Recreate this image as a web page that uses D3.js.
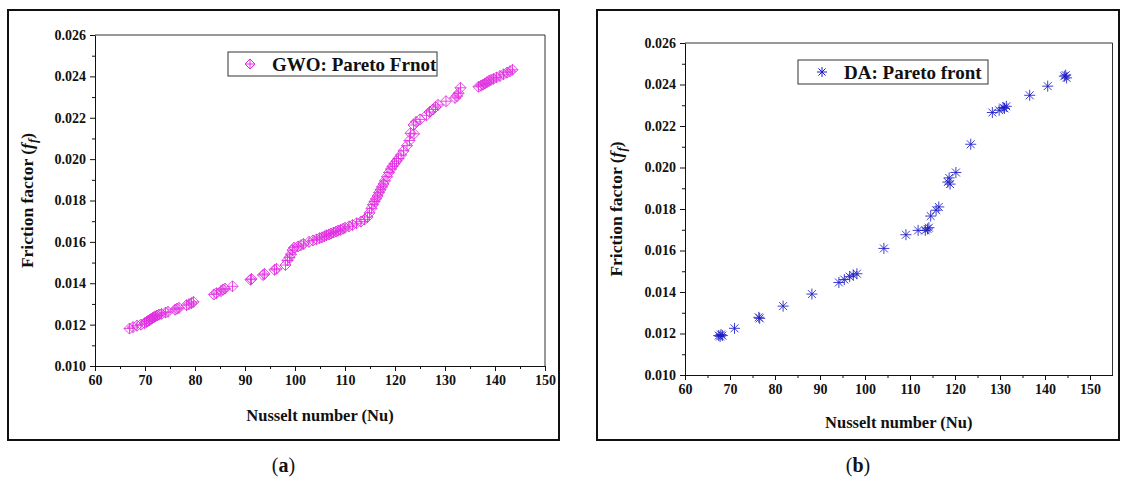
<!DOCTYPE html>
<html>
<head>
<meta charset="utf-8">
<script src="https://cdn.jsdelivr.net/npm/d3@7"></script>
<style>
  body { margin: 0; background: #fff; }
  svg text { font-family: "Liberation Serif", "DejaVu Serif", serif !important; }
</style>
</head>
<body>
<div id="app"></div>
<script>
// GWO pareto front (left panel)
const gwoNu = [66.9, 67.6, 68.4, 69.2, 69.9, 70.3, 70.6, 70.9, 71.2, 71.5, 71.8, 72.1, 72.4, 72.8, 73.3, 74.1, 74.6,
  76.0, 76.4, 76.8, 78.3, 78.8, 79.3, 79.7, 83.8, 84.3, 85.2, 85.6, 86.0, 87.5, 91.1, 91.3, 93.6, 93.9, 95.9, 96.3,
  98.1, 98.5, 98.9, 99.2, 99.5, 99.8, 100.6, 101.2, 101.7, 102.8, 103.6, 104.3, 104.9, 105.4, 105.9, 106.3, 106.8,
  107.2, 107.7, 108.2, 108.6, 109.1, 109.6, 110.0, 110.8, 111.5, 112.3, 113.2, 113.9, 114.5, 114.9, 115.3, 115.6,
  115.9, 116.2, 116.5, 116.8, 117.1, 117.4, 117.7, 118.0, 118.4, 118.8, 119.2, 119.5, 119.9, 120.3, 120.7, 121.2,
  121.7, 122.4, 122.9, 123.1, 123.8, 123.7, 124.2, 125.0, 126.3, 126.9, 127.6, 128.1, 128.6, 130.2, 132.0, 132.4,
  132.7, 133.1, 136.7, 137.2, 137.6, 138.0, 138.4, 138.8, 139.2, 139.7, 140.3, 141.0, 141.7, 142.4, 143.0, 143.5]
const gwoFf = [0.01181, 0.01188, 0.01195, 0.01200, 0.01207, 0.01213, 0.01218, 0.01222, 0.01227, 0.01232, 0.01236,
  0.01240, 0.01244, 0.01248, 0.01252, 0.01258, 0.01262, 0.01272, 0.01277, 0.01281, 0.01294, 0.01299, 0.01304,
  0.01310, 0.01346, 0.01352, 0.01362, 0.01369, 0.01374, 0.01385, 0.01417, 0.01421, 0.01440, 0.01445, 0.01465,
  0.01470, 0.01488, 0.01510, 0.01525, 0.01540, 0.01560, 0.01572, 0.01578, 0.01584, 0.01590, 0.01600, 0.01607,
  0.01612, 0.01618, 0.01622, 0.01627, 0.01632, 0.01636, 0.01640, 0.01645, 0.01650, 0.01654, 0.01658, 0.01663,
  0.01668, 0.01675, 0.01682, 0.01690, 0.01698, 0.01708, 0.01720, 0.01740, 0.01762, 0.01780, 0.01795, 0.01808,
  0.01822, 0.01838, 0.01852, 0.01866, 0.01880, 0.01895, 0.01915, 0.01935, 0.01952, 0.01965, 0.01978, 0.01990,
  0.02003, 0.02020, 0.02040, 0.02065, 0.02090, 0.02125, 0.02122, 0.02165, 0.02180, 0.02192, 0.02212, 0.02228,
  0.02240, 0.02252, 0.02262, 0.02280, 0.02296, 0.02305, 0.02318, 0.02345, 0.02350, 0.02355, 0.02360, 0.02366,
  0.02372, 0.02378, 0.02383, 0.02388, 0.02395, 0.02402, 0.02410, 0.02418, 0.02425, 0.02432]

// DA pareto front (right panel)
const daNu = [67.5, 68.0, 68.3, 67.8, 71.0, 76.4, 76.6, 81.8, 88.2, 94.2, 95.4, 96.6, 97.4, 98.2, 104.2, 109.1,
  111.8, 113.4, 113.9, 114.2, 114.6, 115.8, 116.4, 118.4, 118.7, 118.9, 120.2, 123.5, 128.3, 129.8, 130.7, 131.4,
  131.0, 136.6, 140.6, 144.6, 144.8, 144.3]
const daFf = [0.01190, 0.01195, 0.01190, 0.01186, 0.01225, 0.01278, 0.01273, 0.01332, 0.01390, 0.01446, 0.01460,
  0.01474, 0.01482, 0.01488, 0.01610, 0.01676, 0.01697, 0.01697, 0.01704, 0.01710, 0.01766, 0.01794, 0.01810,
  0.01930, 0.01950, 0.01920, 0.01976, 0.02112, 0.02265, 0.02276, 0.02289, 0.02295, 0.02285, 0.02348, 0.02392,
  0.02445, 0.02432, 0.02440]

const xTicks = [60, 70, 80, 90, 100, 110, 120, 130, 140, 150]
const yTicks = [0.010, 0.012, 0.014, 0.016, 0.018, 0.020, 0.022, 0.024, 0.026]

const W = 1125, H = 479
const svg = d3.select('#app').append('svg')
    .attr('width', W)
    .attr('height', H)
svg.append('rect').attr('width', W).attr('height', H).attr('fill', '#fff')

const diamondPlus = r => `M0,${-r}L${r},0L0,${r}L${-r},0Z M0,${-r}L0,${r} M${-r},0L${r},0`
const star = r => {
  const d = r * 0.72
  return `M0,${-r}L0,${r} M${-r},0L${r},0 M${-d},${-d}L${d},${d} M${-d},${d}L${d},${-d}`
}

const panels = [
  { frame: [8, 10, 551, 430], x: [95, 545], xMax: 150, y: [366, 35], nu: gwoNu, ff: gwoFf,
    sym: diamondPlus, color: '#e02ce0', label: 'GWO: Pareto Frnot',
    legend: [228, 52, 209, 24], symDx: 22, textDx: 44, yTitleX: 33, xTitleY: 421, caption: 'a' },
  { frame: [597, 10, 522, 430], x: [685, 1112.5], xMax: 155, y: [375, 43], nu: daNu, ff: daFf,
    sym: star, color: '#1c1cc8', label: 'DA: Pareto front',
    legend: [798, 60, 190, 24], symDx: 24, textDx: 46, yTitleX: 622, xTitleY: 428, caption: 'b' }
]

panels.forEach(p => {
  const g = svg.append('g')
  const [fx, fy, fw, fh] = p.frame
  g.append('rect')
      .attr('x', fx).attr('y', fy).attr('width', fw).attr('height', fh)
      .attr('fill', 'none').attr('stroke', '#111').attr('stroke-width', 2)

  const x = d3.scaleLinear().domain([60, p.xMax]).range(p.x)
  const y = d3.scaleLinear().domain([0.010, 0.026]).range(p.y)

  // plot box top + right
  g.append('path')
      .attr('d', `M${p.x[0]},${p.y[1]}H${p.x[1]}V${p.y[0]}`)
      .attr('fill', 'none').attr('stroke', '#333').attr('stroke-width', 1)

  // minor ticks
  const xMinor = d3.range(65, p.xMax, 10)
  const yMinor = d3.range(0.011, 0.026, 0.002)
  g.append('g').attr('transform', `translate(0,${p.y[0]})`)
      .call(d3.axisBottom(x).tickValues(xMinor).tickSize(3).tickFormat(''))
      .call(a => a.select('.domain').remove())
  g.append('g').attr('transform', `translate(${p.x[0]},0)`)
      .call(d3.axisLeft(y).tickValues(yMinor).tickSize(3).tickFormat(''))
      .call(a => a.select('.domain').remove())

  const xAxis = g.append('g').attr('transform', `translate(0,${p.y[0]})`)
      .call(d3.axisBottom(x).tickValues(xTicks).tickSize(5).tickSizeOuter(0).tickPadding(4))
  const yAxis = g.append('g').attr('transform', `translate(${p.x[0]},0)`)
      .call(d3.axisLeft(y).tickValues(yTicks).tickSize(5).tickSizeOuter(0).tickPadding(4).tickFormat(d3.format('.3f')))
  ;[xAxis, yAxis].forEach(a => {
    a.attr('font-family', null)
    a.selectAll('text').attr('font-size', 14).attr('font-weight', 'bold').attr('fill', '#111')
    a.selectAll('line, path').attr('stroke', '#111')
  })
  g.selectAll('.tick line').attr('stroke', '#111')

  // axis titles
  g.append('text')
      .attr('x', (p.x[0] + p.x[1]) / 2)
      .attr('y', p.xTitleY)
      .attr('text-anchor', 'middle')
      .attr('font-size', 16.5).attr('font-weight', 'bold').attr('fill', '#111')
      .text('Nusselt number (Nu)')
  const yt = g.append('text')
      .attr('transform', `translate(${p.yTitleX},${(p.y[0] + p.y[1]) / 2}) rotate(-90)`)
      .attr('text-anchor', 'middle')
      .attr('font-size', 17.5).attr('font-weight', 'bold').attr('fill', '#111')
  yt.append('tspan').text('Friction factor (')
  yt.append('tspan').attr('font-style', 'italic').text('f')
  yt.append('tspan').attr('font-style', 'italic').attr('font-size', 13).attr('dy', 4).text('f')
  yt.append('tspan').attr('dy', -4).text(')')

  // points
  g.append('g').selectAll('path')
      .data(d3.zip(p.nu, p.ff))
      .join('path')
      .attr('transform', d => `translate(${x(d[0])},${y(d[1])})`)
      .attr('d', p.sym(5.5))
      .attr('fill', 'none')
      .attr('stroke', p.color)
      .attr('stroke-width', 1)
      .attr('stroke-opacity', 0.85)

  // legend
  const [lx, ly, lw, lh] = p.legend
  g.append('rect')
      .attr('x', lx).attr('y', ly).attr('width', lw).attr('height', lh)
      .attr('fill', '#fff').attr('stroke', '#333').attr('stroke-width', 1)
  g.append('path')
      .attr('transform', `translate(${lx + p.symDx},${ly + lh / 2})`)
      .attr('d', p.sym(5))
      .attr('fill', 'none').attr('stroke', p.color).attr('stroke-width', 1)
  g.append('text')
      .attr('x', lx + p.textDx).attr('y', ly + lh / 2 + 6.5)
      .attr('font-size', 19).attr('font-weight', 'bold').attr('fill', '#111')
      .text(p.label)

  // caption
  const cap = svg.append('text')
      .attr('x', fx + fw / 2).attr('y', 472)
      .attr('text-anchor', 'middle')
      .attr('font-size', 20).attr('fill', '#111')
  cap.append('tspan').text('(')
  cap.append('tspan').attr('font-weight', 'bold').text(p.caption)
  cap.append('tspan').text(')')
})
</script>
</body>
</html>
